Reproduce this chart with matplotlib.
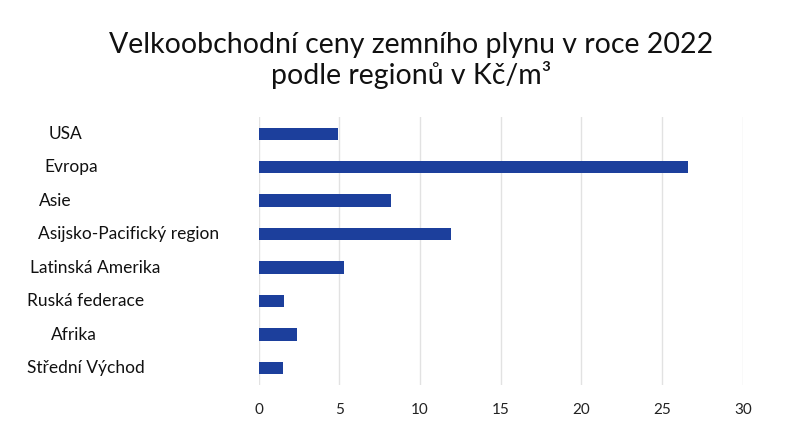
import matplotlib
matplotlib.use("Agg")
import matplotlib.pyplot as plt
import matplotlib.transforms as mtransforms

# data (Kč/m3)
regions = ["USA", "Evropa", "Asie", "Asijsko-Pacifický region",
           "Latinská Amerika", "Ruská federace", "Afrika", "Střední Východ"]
prices = [4.95, 26.6, 8.2, 11.9, 5.3, 1.6, 2.4, 1.5]
x_ticks = [0, 5, 10, 15, 20, 25, 30]

# label left edges in figure pixels (labels in the original are not aligned)
label_x_px = [49, 44, 39, 38, 30, 27, 51, 27]

plt.rcParams['font.family'] = ['Lato', 'DejaVu Sans']

fig = plt.figure(figsize=(8.03, 4.30), dpi=100)
ax = fig.add_axes([0.322, 0.105, 0.603, 0.623])

ypos = list(range(len(regions)))
ax.barh(ypos, prices, height=0.37, color="#1c3f9c", zorder=3)

ax.set_xlim(0, 30)
ax.set_ylim(len(regions) - 0.5, -0.5)
ax.set_xticks(x_ticks)
ax.set_xticklabels([str(t) for t in x_ticks], fontsize=11, color="#222222")
ax.set_yticks([])
ax.tick_params(axis="x", length=0, pad=13)
ax.grid(axis="x", color="#e2e2e2", linewidth=1.0, zorder=0)
for s in ax.spines.values():
    s.set_visible(False)

trans = mtransforms.blended_transform_factory(fig.transFigure, ax.transData)
for i, name in enumerate(regions):
    ax.text(label_x_px[i] / 803, ypos[i], name, transform=trans,
            ha="left", va="center", fontsize=12.5, color="#111111")

fig.text(0.512, 0.896, "Velkoobchodní ceny zemního plynu v roce 2022",
         ha="center", va="center", fontsize=20.5, color="#111111")
fig.text(0.512, 0.826, "podle regionů v Kč/m³",
         ha="center", va="center", fontsize=20.5, color="#111111")

fig.savefig("out.png", dpi=100)
